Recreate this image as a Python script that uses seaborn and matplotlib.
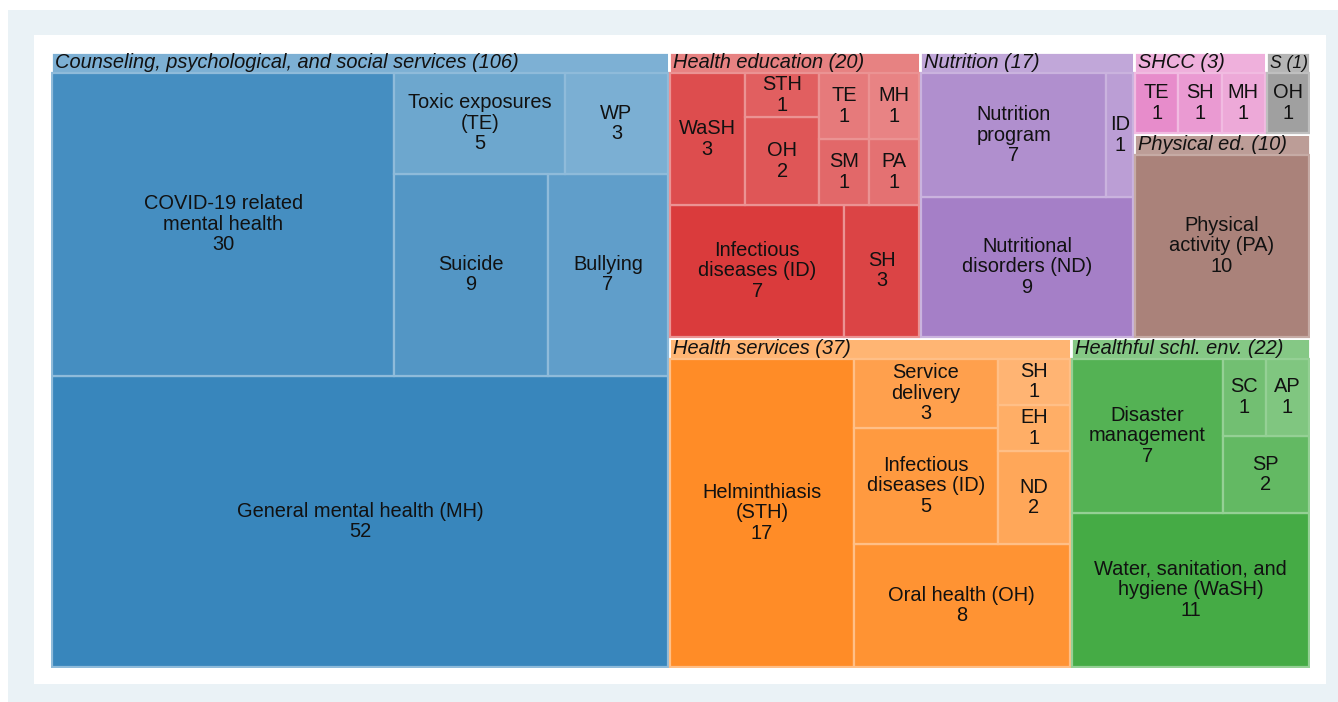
import matplotlib
matplotlib.use("Agg")
import matplotlib.pyplot as plt
import seaborn as sns
import numpy as np
from matplotlib.patches import Rectangle
from matplotlib.colors import to_rgb

# ---------------- data ----------------
group_names = ["Counseling, psychological, and social services", "Health services",
               "Healthful schl. env.", "Health education", "Nutrition",
               "Physical ed.", "SHCC", "S"]

counseling_labels = ["General mental health (MH)", "COVID-19 related\nmental health", "Suicide",
                     "Bullying", "Toxic exposures\n(TE)", "WP"]
counseling_values = [52, 30, 9, 7, 5, 3]

services_labels = ["Helminthiasis\n(STH)", "Oral health (OH)", "Infectious\ndiseases (ID)",
                   "Service\ndelivery", "ND", "EH", "SH"]
services_values = [17, 8, 5, 3, 2, 1, 1]

environment_labels = ["Water, sanitation, and\nhygiene (WaSH)", "Disaster\nmanagement", "SP", "SC", "AP"]
environment_values = [11, 7, 2, 1, 1]

education_labels = ["Infectious\ndiseases (ID)", "SH", "WaSH", "OH", "STH", "SM", "PA", "TE", "MH"]
education_values = [7, 3, 3, 2, 1, 1, 1, 1, 1]

nutrition_labels = ["Nutritional\ndisorders (ND)", "Nutrition\nprogram", "ID"]
nutrition_values = [9, 7, 1]

physical_labels = ["Physical\nactivity (PA)"]
physical_values = [10]

shcc_labels = ["TE", "SH", "MH"]
shcc_values = [1, 1, 1]

s_labels = ["OH"]
s_values = [1]

children_labels = [counseling_labels, services_labels, environment_labels, education_labels,
                   nutrition_labels, physical_labels, shcc_labels, s_labels]
children_values = [counseling_values, services_values, environment_values, education_values,
                   nutrition_values, physical_values, shcc_values, s_values]


# ---------------- squarified layout (d3 style) ----------------
def squarify(values, x0, y0, x1, y1, ratio=1.0):
    values = [float(v) for v in values]
    n = len(values)
    rects = [None] * n
    value = sum(values)
    i0 = 0
    while i0 < n:
        dx, dy = x1 - x0, y1 - y0
        i1 = i0
        sum_v = values[i1]
        i1 += 1
        min_v = max_v = sum_v
        alpha = max(dy / dx, dx / dy) / (value * ratio)
        beta = sum_v * sum_v * alpha
        min_ratio = max(max_v / beta, beta / min_v)
        while i1 < n:
            nv = values[i1]
            s2 = sum_v + nv
            mn, mx = min(min_v, nv), max(max_v, nv)
            beta = s2 * s2 * alpha
            new_ratio = max(mx / beta, beta / mn)
            if new_ratio > min_ratio:
                break
            sum_v, min_v, max_v, min_ratio = s2, mn, mx, new_ratio
            i1 += 1
        if dx < dy:
            h = dy * sum_v / value
            cx = x0
            for i in range(i0, i1):
                w = dx * values[i] / sum_v
                rects[i] = (cx, y0, w, h)
                cx += w
            y0 += h
        else:
            w = dx * sum_v / value
            cy = y0
            for i in range(i0, i1):
                h = dy * values[i] / sum_v
                rects[i] = (x0, cy, w, h)
                cy += h
            x0 += w
        value -= sum_v
        i0 = i1
    return rects


def fade(c, t):
    c = np.array(to_rgb(c))
    return tuple(c + (1 - c) * t)


# ---------------- figure ----------------
W_PX, H_PX = 1338, 702
fig = plt.figure(figsize=(W_PX / 100, H_PX / 100), dpi=100)
fig.patch.set_facecolor("white")
fig.patches.append(Rectangle((8 / W_PX, 0), 1 - 8 / W_PX, 1 - 10 / H_PX, transform=fig.transFigure,
                             facecolor="#eaf2f6", edgecolor="none", zorder=-5))
fig.patches.append(Rectangle((34 / W_PX, 18 / H_PX), (1326 - 34) / W_PX, (684 - 35) / H_PX,
                             transform=fig.transFigure, facecolor="white", edgecolor="none", zorder=-4))

AX_W_PX = 1310 - 51
ax = fig.add_axes([51 / W_PX, (H_PX - 668) / H_PX, AX_W_PX / W_PX, (668 - 52) / H_PX])
ax.set_zorder(5)
ax.set_axis_off()

LAYOUT_H = 616.0
LAYOUT_W = AX_W_PX * 0.9
HEADER = 21.0
PAD = 1.0
XPX = AX_W_PX / LAYOUT_W  # pixels per layout unit horizontally

ax.set_xlim(0, LAYOUT_W)
ax.set_ylim(0, LAYOUT_H)

palette = sns.color_palette("tab10", len(group_names))
totals = [sum(v) for v in children_values]
order = np.argsort(-np.array(totals), kind="stable")

top_rects = squarify([totals[i] for i in order], 0, 0, LAYOUT_W, LAYOUT_H)

renderer = fig.canvas.get_renderer()
font_fam = ["Liberation Sans", "DejaVu Sans"]
for rank_g, gi in enumerate(order):
    x, y, w, h = top_rects[rank_g]
    base = palette[rank_g]
    head_col = fade(base, 0.42)
    ax.add_patch(Rectangle((x, y), w, h, facecolor=head_col, edgecolor="white", lw=2.0, zorder=1))
    ht = ax.text(x + 4 / XPX, y + h - HEADER / 2 - 0.5, f"{group_names[gi]} ({totals[gi]})",
                 ha="left", va="center", fontsize=14.4, style="italic", family=font_fam,
                 color="#111111", zorder=5)
    avail = w * XPX - 6
    tw = ht.get_window_extent(renderer=renderer).width
    if tw > avail:
        ht.set_fontsize(14.4 * avail / tw)

    vals = np.array(children_values[gi])
    labs = children_labels[gi]
    corder = np.argsort(-vals, kind="stable")
    crects = squarify([vals[i] for i in corder], x + PAD, y + PAD, x + w - PAD, y + h - HEADER)
    n = len(corder)
    edge_col = fade(base, 0.5)
    for rk, ci in enumerate(corder):
        cx, cy, cw, ch = crects[rk]
        col = fade(base, 0.05 + 0.42 * (rk + 1) / (n + 1))
        ax.add_patch(Rectangle((cx, cy), cw, ch, facecolor=col, edgecolor=edge_col, lw=1.6, zorder=2))
        ax.text(cx + cw / 2, cy + ch / 2, f"{labs[ci]}\n{vals[ci]}", ha="center", va="center",
                fontsize=14.4, family=font_fam, color="#111111", linespacing=1.1, zorder=5)

fig.savefig("out.png", dpi=100, facecolor=fig.get_facecolor())
